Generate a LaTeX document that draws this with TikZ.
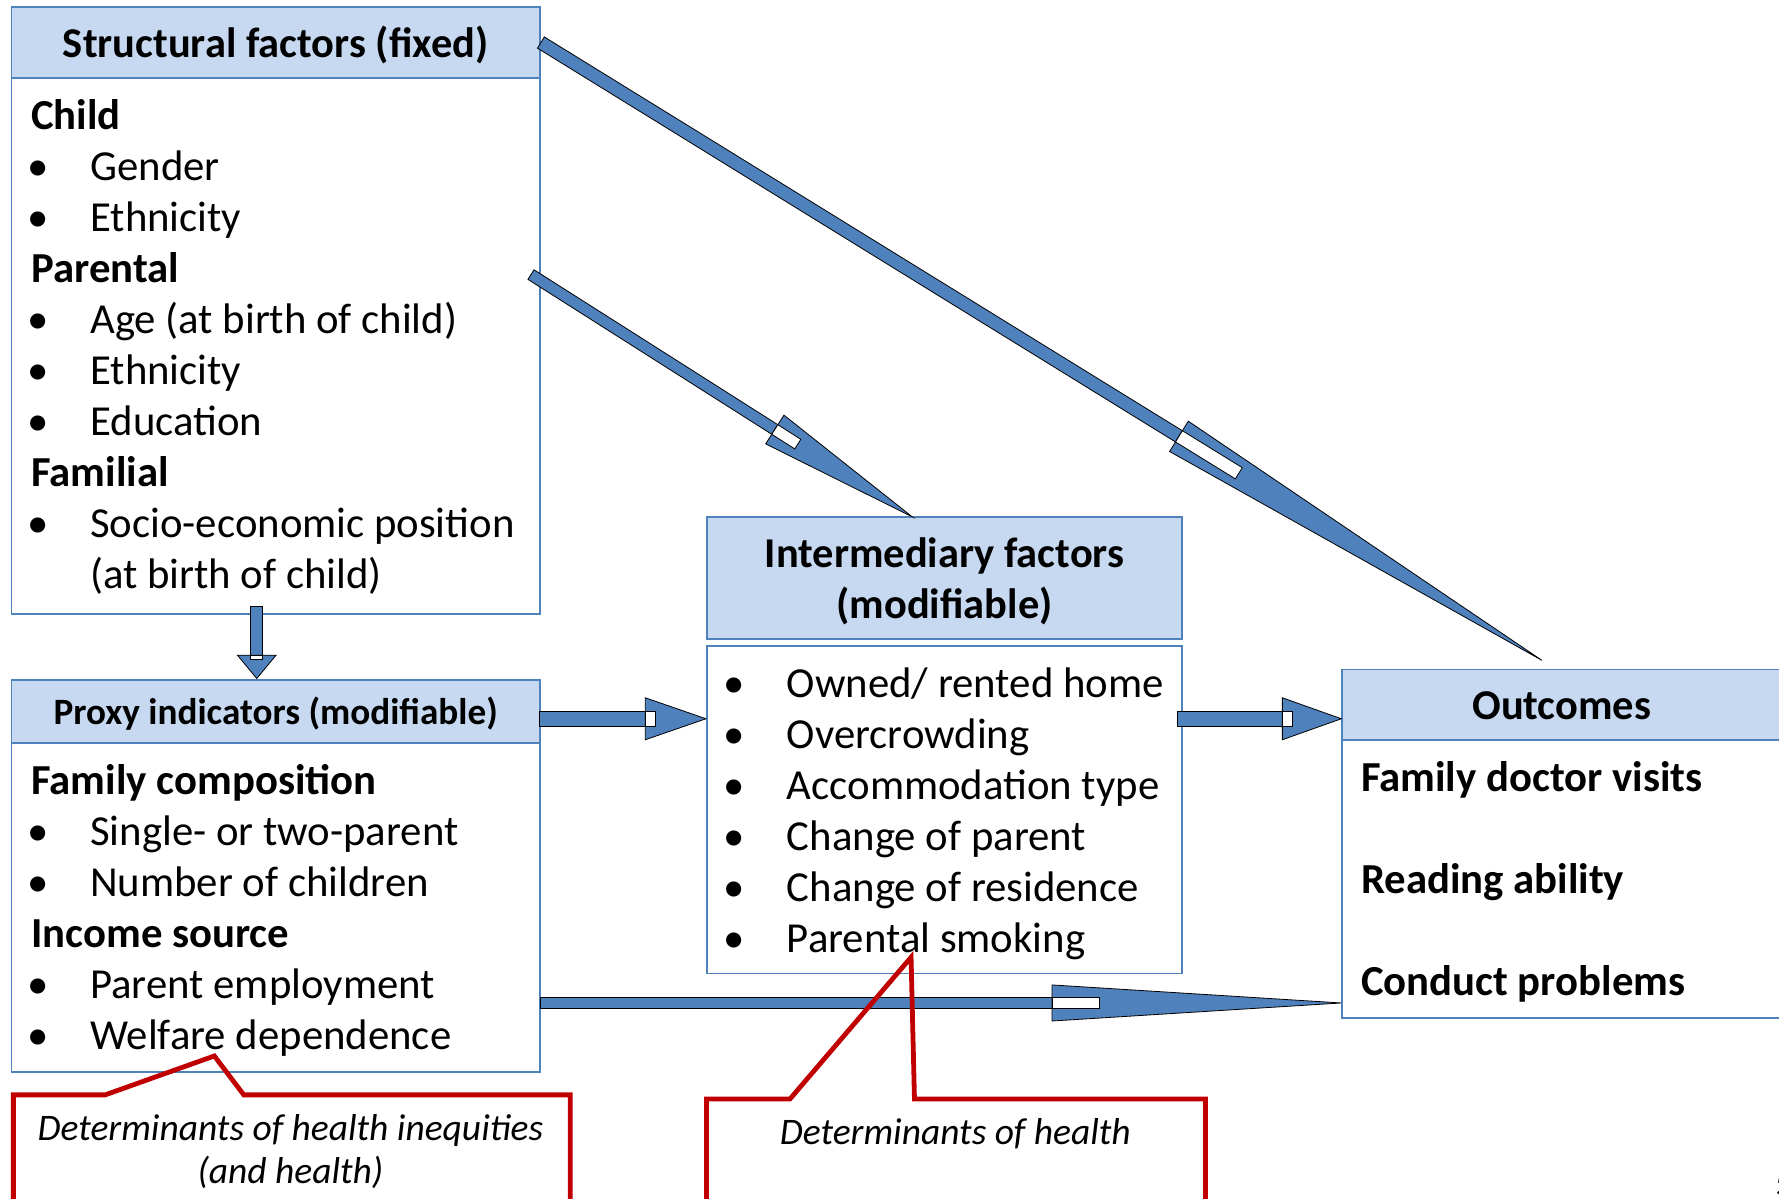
\documentclass[tikz,border=0pt]{standalone}
\usepackage{fontspec}
\setmainfont{Carlito}
\usetikzlibrary{calc}

\definecolor{boxblue}{HTML}{4F81BD}
\definecolor{headblue}{HTML}{C6D9F1}
\definecolor{arrowblue}{HTML}{4F81BD}
\definecolor{calred}{HTML}{C00000}

\newcommand{\bitem}[1]{\makebox[1.04cm][l]{\hspace{-0.07cm}\textbullet}#1}
\newcommand{\blockarrow}[6]{%
  \coordinate (ba-b) at ($(#2)!#5!(#1)$);
  \coordinate (ba-n) at ($(ba-b)!#6!(#2)$);
  \draw[arrowbody] ($(#1)!#3!90:(#2)$) -- ($(ba-b)!#3!90:(#2)$) -- ($(ba-b)!#3!-90:(#2)$) -- ($(#1)!#3!-90:(#2)$) -- cycle;
  \draw[arrowbody] ($(ba-b)!#4!90:(#2)$) -- (#2) -- ($(ba-b)!#4!-90:(#2)$) -- cycle;
  \draw[notch] ($(ba-b)!#3!90:(#2)$) -- ($(ba-n)!#3!90:(#2)$) -- ($(ba-n)!#3!-90:(#2)$) -- ($(ba-b)!#3!-90:(#2)$) -- cycle;
}

\begin{document}
\begin{tikzpicture}[x=0.02cm, y=-0.02cm,
  headbox/.style={draw=boxblue, fill=headblue, line width=0.9pt, inner sep=0pt, align=center, font=\bfseries\fontsize{21.3}{25.6}\selectfont},
  oneline/.style={text height=18.1pt, text depth=3.2pt},
  bodybox/.style={draw=boxblue, fill=white, line width=0.9pt, inner sep=0pt},
  list/.style={anchor=west, inner sep=0pt, align=left, font=\fontsize{21.45}{25.6}\selectfont},
  arrowbody/.style={fill=arrowblue, draw=black, line width=0.4pt},
  notch/.style={fill=white, draw=black, line width=0.4pt},
  callout/.style={draw=calred, line width=2.4pt},
  calltext/.style={align=center, inner sep=0pt, font=\itshape\fontsize{18.8}{21.6}\selectfont}]
\useasboundingbox (0,0) rectangle (1568,1056);
\clip (0,0) rectangle (1568,1056);

\node (shead) at (243,37.5) [headbox, oneline, minimum width=9.32cm, minimum height=1.26cm] {Structural factors (fixed)};
\node (sbody) at (243,305) [bodybox, minimum width=9.32cm, minimum height=9.44cm] {};
\node (stext) at ([xshift=0.36cm, yshift=-0.02cm]sbody.west) [list] {
    \textbf{Child}\\
    \bitem{Gender}\\
    \bitem{Ethnicity}\\
    \textbf{Parental}\\
    \bitem{Age (at birth of child)}\\
    \bitem{Ethnicity}\\
    \bitem{Education}\\
    \textbf{Familial}\\
    \bitem{Socio-economic position}\\
    \hspace*{1.04cm}(at birth of child)
};

\node (phead) at (243,627) [headbox, font=\bfseries\fontsize{18.65}{22.7}\selectfont, text height=15.9pt, text depth=2.8pt, minimum width=9.32cm, minimum height=1.12cm] {Proxy indicators (modifiable)};
\node (pbody) at (243,800) [bodybox, minimum width=9.32cm, minimum height=5.8cm] {};
\node (ptext) at ([xshift=0.36cm, yshift=-0.05cm]pbody.west) [list] {
    \textbf{Family composition}\\
    \bitem{Single- or two-parent}\\
    \bitem{Number of children}\\
    \textbf{Income source}\\
    \bitem{Parent employment}\\
    \bitem{Welfare dependence}
};

\node (ihead) at (832.5,509.5) [headbox, minimum width=8.38cm, minimum height=2.14cm] {\rule{0pt}{18.6pt}Intermediary factors\\(modifiable)};
\node (ibody) at (832.5,713.5) [bodybox, minimum width=8.38cm, minimum height=5.78cm] {};
\node (itext) at ([xshift=0.38cm, yshift=-0.07cm]ibody.west) [list] {
    \bitem{Owned/ rented home}\\
    \bitem{Overcrowding}\\
    \bitem{Accommodation type}\\
    \bitem{Change of parent}\\
    \bitem{Change of residence}\\
    \bitem{Parental smoking}
};

\node (ohead) at (1376.5,621) [headbox, oneline, minimum width=7.74cm, minimum height=1.24cm] {Outcomes};
\node (obody) at (1376.5,774.5) [bodybox, minimum width=7.74cm, minimum height=4.9cm] {};
\node (otext) at ([xshift=0.34cm, yshift=-0.05cm]obody.west) [list, font=\bfseries\fontsize{21.45}{25.6}\selectfont] {
    Family doctor visits\\[25.6pt]
    Reading ability\\[25.6pt]
    Conduct problems
};

\coordinate (a1s) at (shead.east);
\coordinate (a1e) at (1359,582);
\coordinate (a2s) at (468,242);
\coordinate (a2e) at (804,455.5);
\coordinate (a3s) at (226.3,534.7);
\coordinate (a3e) at (226.3,598);
\coordinate (a4s) at (475,633.5);
\coordinate (a4e) at (ibody.west |- a4s);
\coordinate (a5s) at (1038,633.5);
\coordinate (a5e) at (ohead.west |- a5s);
\coordinate (a6s) at (476,884);
\coordinate (a6e) at (obody.west |- a6s);

\blockarrow{a1s}{a1e}{0.116cm}{0.314cm}{7.52cm}{1.24cm}
\blockarrow{a2s}{a2e}{0.10cm}{0.30cm}{2.87cm}{0.48cm}
\blockarrow{a3s}{a3e}{0.106cm}{0.34cm}{0.41cm}{0.08cm}
\blockarrow{a4s}{a4e}{0.13cm}{0.37cm}{1.07cm}{0.17cm}
\blockarrow{a5s}{a5e}{0.13cm}{0.37cm}{1.04cm}{0.18cm}
\blockarrow{a6s}{a6e}{0.10cm}{0.318cm}{5.1cm}{0.84cm}

\draw[callout] (11.8,1070) -- (11.8,965) -- (92.7,965) -- (188.9,930.7) -- (214.9,965) -- (502.6,965) -- (502.6,1070);
\node (c1text) at (256,1015) [calltext] {Determinants of health inequities\\(and health)};
\draw[callout] (622.7,1070) -- (622.7,968.6) -- (696.3,968.6) -- (803,843.7) -- (806,968.6) -- (1062.6,968.6) -- (1062.6,1070);
\node (c2text) at (842,999) [calltext] {Determinants of health};

\node (pgnum) at (1564.5,1054) [anchor=base west, inner sep=0pt, font=\fontsize{18}{21.6}\selectfont] {5};
\end{tikzpicture}
\end{document}
